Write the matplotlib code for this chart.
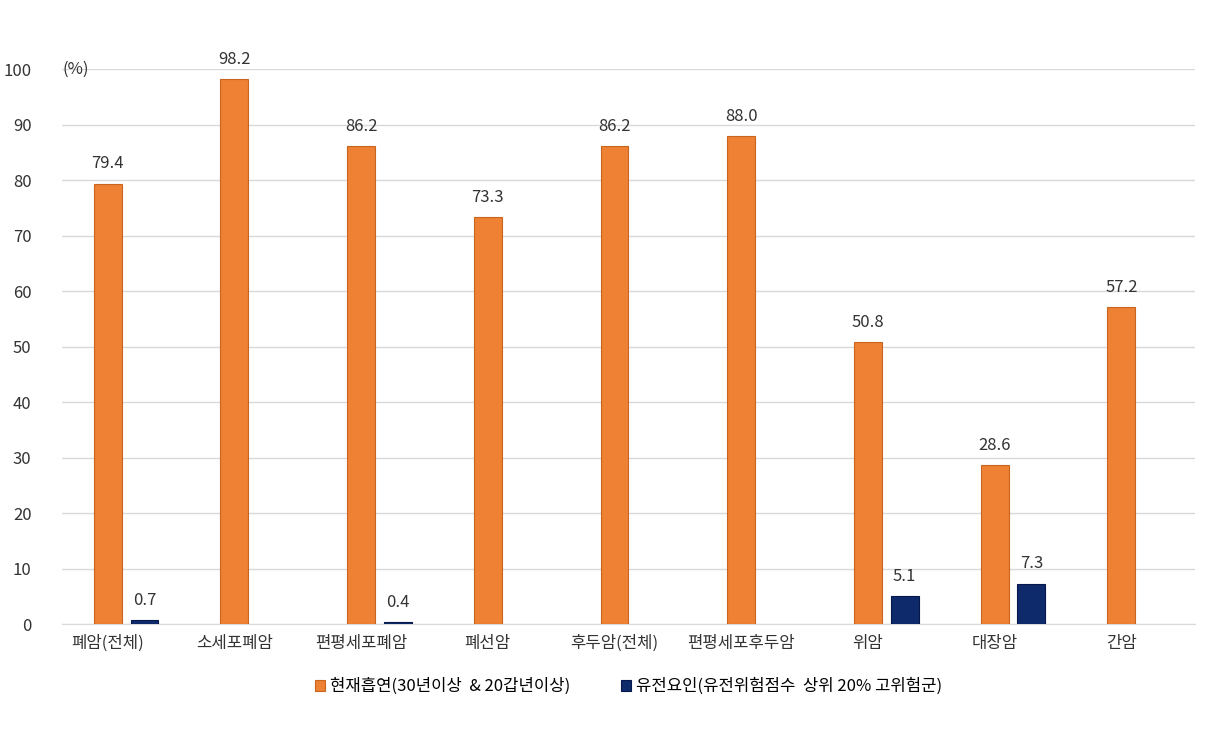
import matplotlib
matplotlib.use("Agg")
import matplotlib.pyplot as plt
import numpy as np

plt.rcParams['font.family'] = ['Noto Sans CJK KR', 'Noto Sans CJK JP', 'Noto Sans CJK SC', 'DejaVu Sans']

categories = ["폐암(전체)", "소세포폐암", "편평세포폐암", "폐선암", "후두암(전체)", "편평세포후두암", "위암", "대장암", "간암"]
smoking = [79.4, 98.2, 86.2, 73.3, 86.2, 88.0, 50.8, 28.6, 57.2]
genetic = [0.7, None, 0.4, None, None, None, 5.1, 7.3, None]
yticks = [0, 10, 20, 30, 40, 50, 60, 70, 80, 90, 100]

fig = plt.figure(figsize=(12.18, 7.29), dpi=100)
ax = fig.add_axes([0.051, 0.144, 0.930, 0.761])
x = np.arange(len(categories))
w = 0.22
off = 0.29
ax.bar(x, smoking, w, color="#EE8133", edgecolor="#C8661F", linewidth=0.8, zorder=3, label="현재흡연(30년이상  & 20갑년이상)")
for xi, v in zip(x, smoking):
    ax.text(xi, v + 2, f"{v:.1f}", ha="center", va="bottom", fontsize=12, color="#333333")
gx = [xi + off for xi, v in zip(x, genetic) if v is not None]
gv = [v for v in genetic if v is not None]
ax.bar(gx, gv, w, color="#0E2A6B", edgecolor="#06184A", linewidth=0.8, zorder=3, label="유전요인(유전위험점수  상위 20% 고위험군)")
for xi, v in zip(gx, gv):
    ax.text(xi, v + 2, f"{v:.1f}", ha="center", va="bottom", fontsize=12, color="#333333")

ax.set_xlim(-0.36, len(categories) - 0.42)
ax.set_ylim(0, 100)
ax.set_yticks(yticks)
ax.set_yticklabels([str(t) for t in yticks], fontsize=12, color="#333333")
ax.text(0.0, 100, "(%)", transform=ax.get_yaxis_transform(), ha="left", va="center", fontsize=12, color="#333333")
ax.set_xticks(x)
ax.set_xticklabels(categories, fontsize=12, color="#333333")
ax.grid(axis="y", color="#D9D9D9", linewidth=1, zorder=0)
for s in ["top", "right", "left"]:
    ax.spines[s].set_visible(False)
ax.spines["bottom"].set_color("#D9D9D9")
ax.tick_params(length=0, pad=8)
ax.tick_params(axis="y", pad=22)
ax.legend(loc="upper center", bbox_to_anchor=(0.5, -0.07), ncol=2, frameon=False, fontsize=12,
          handlelength=0.6, handleheight=0.6, columnspacing=3, handletextpad=0.3)
fig.savefig("out.png", dpi=100)
